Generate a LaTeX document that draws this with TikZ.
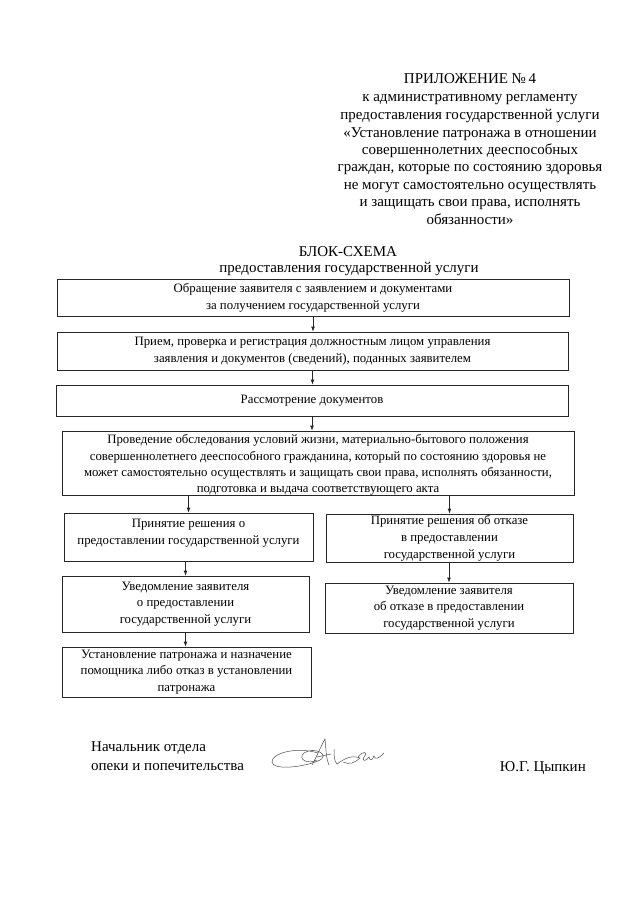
\documentclass[tikz,border=0pt]{standalone}
\usepackage{fontspec}
\setmainfont{Liberation Serif}
\usetikzlibrary{arrows.meta}
\begin{document}
\begin{tikzpicture}[x=1pt,y=-1pt,
  box/.style={draw=black!85, line width=0.7pt, inner sep=0pt, align=center,
    font=\fontsize{12.8}{16.8}\selectfont},
  boxtext/.style={inner sep=0pt, align=center, font=\fontsize{12.8}{16.8}\selectfont},
  hdr/.style={anchor=base, inner sep=0pt, font=\fontsize{15}{18}\selectfont},
  sig/.style={inner sep=0pt, font=\fontsize{15}{18}\selectfont},
  arr/.style={draw=black!85, line width=0.7pt, -{Latex[length=5pt,width=3.8pt]}},
  pen/.style={draw=black!70, line width=0.5pt}]
\useasboundingbox (0,0) rectangle (640,902);
% header
\node[hdr] (h1) at (470,83.5) {ПРИЛОЖЕНИЕ №\,4};
\node[hdr] (h2) at (470,101) {к административному регламенту};
\node[hdr] (h3) at (470,119) {предоставления государственной услуги};
\node[hdr] (h4) at (470,137) {«Установление патронажа в отношении};
\node[hdr] (h5) at (470,154) {совершеннолетних дееспособных};
\node[hdr] (h6) at (470,171) {граждан, которые по состоянию здоровья};
\node[hdr] (h7) at (470,189) {не могут самостоятельно осуществлять};
\node[hdr] (h8) at (470,206) {и защищать свои права, исполнять};
\node[hdr] (h9) at (470,224) {обязанности»};
% title
\node[hdr] (t1) at (348,256) {БЛОК-СХЕМА};
\node[hdr] (t2) at (349,272) {предоставления государственной услуги};
% boxes
\node[box, minimum width=512pt, minimum height=37pt] (b1) at (313,297.5)
  {Обращение заявителя с заявлением и документами\\за получением государственной услуги};
\node[box, minimum width=511pt, minimum height=38pt] (b2) at (312.5,351)
  {Прием, проверка и регистрация должностным лицом управления\\заявления и документов (сведений), поданных заявителем};
\node[box, minimum width=512pt, minimum height=31pt] (b3) at (312,400.5)
  {Рассмотрение документов};
\node[box, minimum width=512pt, minimum height=64pt] (b4) at (318,463) {};
\node[boxtext, font=\fontsize{12.8}{16.2}\selectfont] (b4t) at (318,465)
  {Проведение обследования условий жизни, материально-бытового положения\\совершеннолетнего дееспособного гражданина, который по состоянию здоровья не\\может самостоятельно осуществлять и защищать свои права, исполнять обязанности,\\подготовка и выдача соответствующего акта};
\node[box, minimum width=249pt, minimum height=48pt] (l5) at (188.5,537) {};
\node[boxtext] (l5t) at (188.5,533)
  {Принятие решения о\\предоставлении государственной услуги};
\node[box, minimum width=247pt, minimum height=48pt] (r5) at (449.5,538)
  {Принятие решения об отказе\\в предоставлении\\государственной услуги};
\node[box, minimum width=247pt, minimum height=56pt] (l6) at (185.5,604)
  {Уведомление заявителя\\о предоставлении\\государственной услуги};
\node[box, minimum width=248pt, minimum height=50pt] (r6) at (449,608)
  {Уведомление заявителя\\об отказе в предоставлении\\государственной услуги};
\node[box, minimum width=249pt, minimum height=50pt] (b7) at (186.5,672)
  {Установление патронажа и назначение\\помощника либо отказ в установлении\\патронажа};
% connectors
\draw[arr] (b1.south) -- (b1.south |- b2.north);
\draw[arr] (b2.south) -- (b2.south |- b3.north);
\draw[arr] (b3.south) -- (b3.south |- b4.north);
\draw[arr] (l5.north |- b4.south) -- (l5.north);
\draw[arr] (r5.north |- b4.south) -- (r5.north);
\draw[arr] (l6.north |- l5.south) -- (l6.north);
\draw[arr] (r6.north |- r5.south) -- (r6.north);
\draw[arr] (l6.south) -- (l6.south |- b7.north);
% signature block
\node[sig, anchor=base west] (s1) at (91,751) {Начальник отдела};
\node[sig, anchor=base west] (s2) at (91,770) {опеки и попечительства};
\node[sig, anchor=base east] (s3) at (586,771) {Ю.Г. Цыпкин};
% handwritten signature
\draw[pen] (318,753) .. controls (295,746) and (271,754) .. (272,762)
  .. controls (273,770) and (300,768) .. (318,761)
  .. controls (332,755) and (314,746) .. (304,753)
  .. controls (297,759) and (308,765) .. (317,760);
\draw[pen] (312,765) .. controls (317,756) and (321,746) .. (325,739)
  .. controls (326,749) and (326,758) .. (329,765);
\draw[pen] (317,757) -- (331,754);
\draw[pen] (334,749) .. controls (334,756) and (334,761) .. (337,764)
  .. controls (345,758) and (352,755) .. (360,758)
  .. controls (355,763) and (349,765) .. (343,762);
\draw[pen] (358,757) .. controls (362,751) and (369,751) .. (364,757)
  .. controls (361,761) and (366,762) .. (369,757)
  .. controls (370,761) and (372,761) .. (374,756)
  .. controls (375,760) and (378,759) .. (384,753);
\end{tikzpicture}
\end{document}
